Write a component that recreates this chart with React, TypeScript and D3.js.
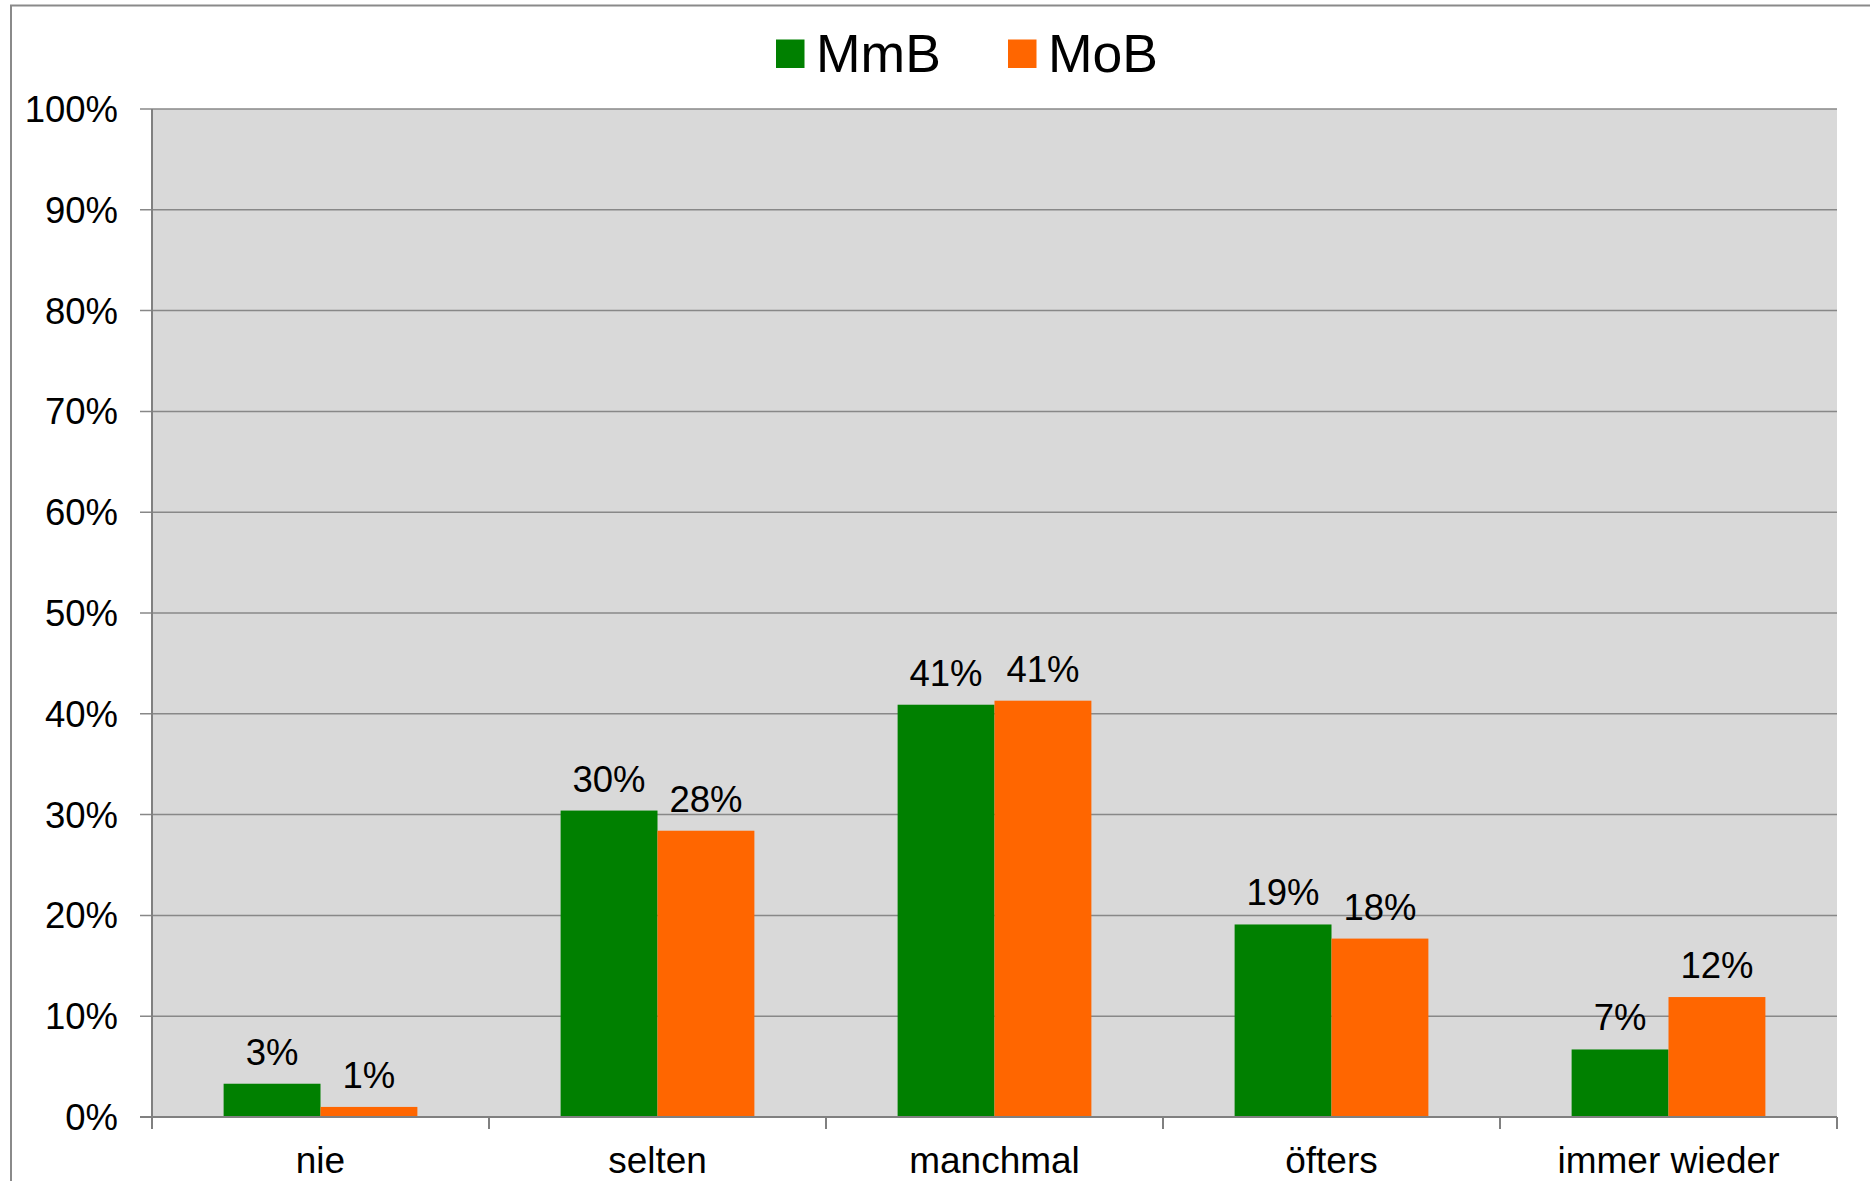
import React from "react";
import * as d3 from "d3";

// Antwortkategorien und Anteile je Gruppe (in %)
const categories = ["nie", "selten", "manchmal", "öfters", "immer wieder"];
const seriesNames = ["MmB", "MoB"];
const mmbValues = [3.3, 30.4, 40.9, 19.1, 6.7];
const mobValues = [1.0, 28.4, 41.3, 17.7, 11.9];
const seriesColors = ["#008000", "#FF6600"];
const yTicks = [0, 10, 20, 30, 40, 50, 60, 70, 80, 90, 100];

const W = 1870;
const H = 1181;
const plot = { left: 152, right: 1837, top: 109, bottom: 1117 };
const FONT = "'Liberation Sans', Arial, Helvetica, sans-serif";

export default function App() {
  const x0 = d3
    .scaleBand<string>()
    .domain(categories)
    .range([plot.left, plot.right])
    .paddingInner(0)
    .paddingOuter(0);
  const band = x0.bandwidth();
  const gap = band * 0.425;
  const x1 = d3
    .scaleBand<string>()
    .domain(seriesNames)
    .range([gap / 2, band - gap / 2])
    .padding(0);
  const y = d3.scaleLinear().domain([0, 100]).range([plot.bottom, plot.top]);
  const fmt = (v: number) => `${Math.round(v)}%`;

  const series = [mmbValues, mobValues];
  const catTicks = [...categories.map((c) => x0(c)!), plot.right];

  return (
    <div style={{ position: "absolute", left: 0, top: 0 }}>
      <svg width={W} height={H} style={{ display: "block", background: "#fff" }} fontFamily={FONT}>
        {/* Rahmen */}
        <rect x={11} y={5.5} width={W + 20} height={H + 20} fill="none" stroke="#8a8a8a" strokeWidth={2} />

        {/* Zeichenfläche */}
        <rect
          x={plot.left}
          y={plot.top}
          width={plot.right - plot.left}
          height={plot.bottom - plot.top}
          fill="#D9D9D9"
        />

        {/* Gitterlinien */}
        {yTicks.map((t) => (
          <line
            key={"g" + t}
            x1={plot.left - 12}
            x2={plot.right}
            y1={y(t)}
            y2={y(t)}
            stroke="#888"
            strokeWidth={1.5}
          />
        ))}

        {/* Balken */}
        {series.map((vals, si) =>
          vals.map((v, ci) => (
            <rect
              key={`b${si}-${ci}`}
              x={x0(categories[ci])! + x1(seriesNames[si])!}
              y={y(v)}
              width={x1.bandwidth()}
              height={y(0) - y(v)}
              fill={seriesColors[si]}
            />
          ))
        )}

        {/* Achsen */}
        <line x1={plot.left} x2={plot.left} y1={plot.top} y2={plot.bottom} stroke="#808080" strokeWidth={2} />
        <line x1={plot.left - 12} x2={plot.right} y1={plot.bottom} y2={plot.bottom} stroke="#808080" strokeWidth={2} />
        {catTicks.map((cx, i) => (
          <line key={"t" + i} x1={cx} x2={cx} y1={plot.bottom} y2={plot.bottom + 12} stroke="#808080" strokeWidth={2} />
        ))}

        {/* Y-Achsenbeschriftung */}
        {yTicks.map((t) => (
          <text key={"yl" + t} x={118} y={y(t) + 13} textAnchor="end" fontSize={36.5} fill="#000">
            {t}%
          </text>
        ))}

        {/* Kategorien */}
        {categories.map((c) => (
          <text key={"c" + c} x={x0(c)! + band / 2} y={1173} textAnchor="middle" fontSize={37} fill="#000">
            {c}
          </text>
        ))}

        {/* Datenbeschriftungen */}
        {series.map((vals, si) =>
          vals.map((v, ci) => (
            <text
              key={`l${si}-${ci}`}
              x={x0(categories[ci])! + x1(seriesNames[si])! + x1.bandwidth() / 2}
              y={y(v) - 19}
              textAnchor="middle"
              fontSize={36.5}
              fill="#000"
            >
              {fmt(v)}
            </text>
          ))
        )}

        {/* Legende */}
        {seriesNames.map((n, i) => {
          const lx = [776, 1008][i];
          return (
            <g key={"lg" + n}>
              <rect x={lx} y={39.5} width={28.5} height={28.5} fill={seriesColors[i]} />
              <text x={lx + 40} y={71.5} fontSize={53.5} fill="#000">
                {n}
              </text>
            </g>
          );
        })}
      </svg>
    </div>
  );
}
